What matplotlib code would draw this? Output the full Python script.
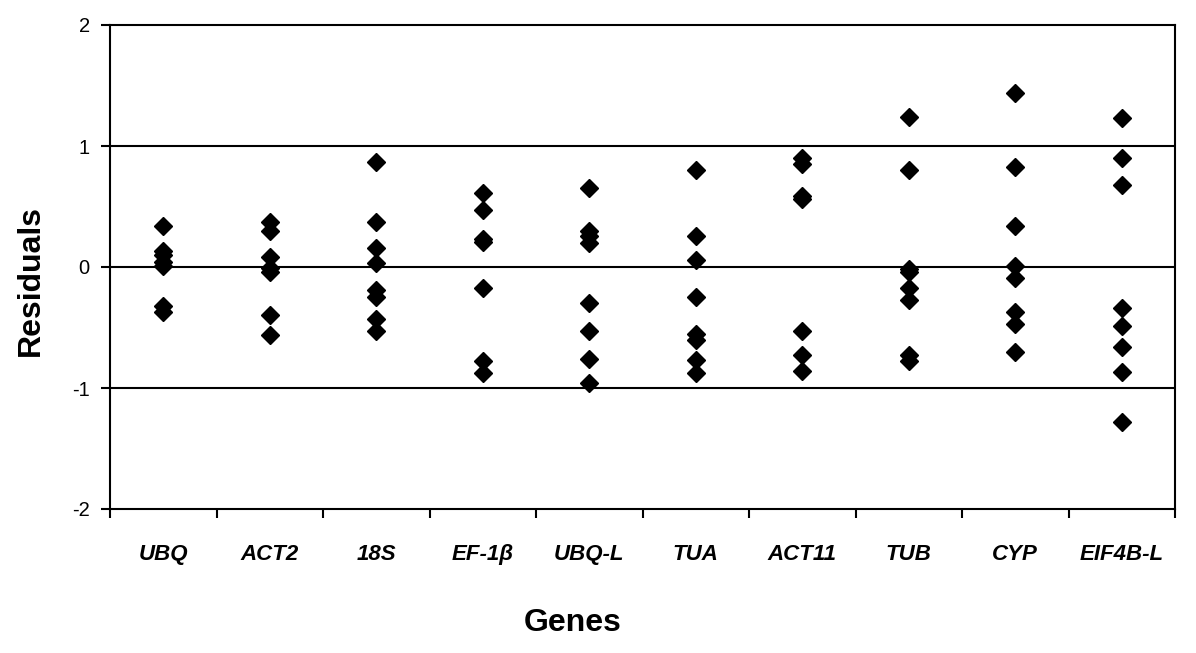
import matplotlib.pyplot as plt
import numpy as np

plt.rcParams['font.family'] = ['Liberation Sans', 'DejaVu Sans']

# Residuals per gene
genes = ['UBQ', 'ACT2', '18S', 'EF-1β', 'UBQ-L', 'TUA', 'ACT11', 'TUB', 'CYP', 'EIF4B-L']
ubq = [0.34, 0.13, 0.10, 0.04, 0.01, -0.32, -0.37]
act2 = [0.37, 0.30, 0.08, -0.01, -0.04, -0.40, -0.56]
s18 = [0.87, 0.37, 0.16, 0.03, -0.19, -0.25, -0.43, -0.53]
ef1b = [0.61, 0.47, 0.23, 0.21, -0.17, -0.78, -0.88]
ubq_l = [0.65, 0.30, 0.26, 0.20, -0.30, -0.53, -0.76, -0.96]
tua = [0.80, 0.26, 0.06, -0.25, -0.55, -0.60, -0.77, -0.88]
act11 = [0.90, 0.85, 0.59, 0.56, -0.53, -0.73, -0.86]
tub = [1.24, 0.80, -0.02, -0.04, -0.17, -0.27, -0.73, -0.78]
cyp = [1.44, 0.83, 0.34, 0.01, -0.09, -0.37, -0.47, -0.70]
eif4b_l = [1.23, 0.90, 0.68, -0.34, -0.49, -0.66, -0.87, -1.28]
residuals = [ubq, act2, s18, ef1b, ubq_l, tua, act11, tub, cyp, eif4b_l]

fig = plt.figure(figsize=(11.96, 6.53), dpi=100)
ax = fig.add_axes([110 / 1196, 1 - 509 / 653, 1065 / 1196, 484 / 653])

for i, vals in enumerate(residuals):
    ax.plot(np.full(len(vals), i), vals, linestyle='none', marker='D',
            color='black', markersize=9.5, zorder=3)

# horizontal lines at the major y ticks
for yv in (-1, 0, 1):
    ax.axhline(yv, color='black', linewidth=1.5, zorder=1)

ax.set_xlim(-0.5, len(genes) - 0.5)
ax.set_ylim(-2, 2)
ax.set_yticks([-2, -1, 0, 1, 2])
ax.set_yticklabels(['-2', '-1', '0', '1', '2'])
ax.tick_params(axis='y', direction='out', length=6.5, width=1.5,
               labelsize=14.5, pad=8)

# category boundaries as ticks, names on minor ticks
ax.set_xticks(np.arange(-0.5, len(genes), 1.0))
ax.set_xticklabels([])
ax.tick_params(axis='x', which='major', direction='out', length=6.5, width=1.5)
ax.set_xticks(np.arange(len(genes)), minor=True)
ax.set_xticklabels(genes, minor=True, fontsize=16, fontweight='bold',
                   fontstyle='italic')
ax.tick_params(axis='x', which='minor', length=0, pad=25)

for sp in ax.spines.values():
    sp.set_linewidth(1.5)

ax.set_ylabel('Residuals', fontsize=23, fontweight='bold')
ax.yaxis.set_label_coords(-0.060, 0.473)
ax.set_xlabel('Genes', fontsize=23, fontweight='bold')
ax.xaxis.set_label_coords(0.434, -0.205)

fig.savefig('out.png', dpi=100)
